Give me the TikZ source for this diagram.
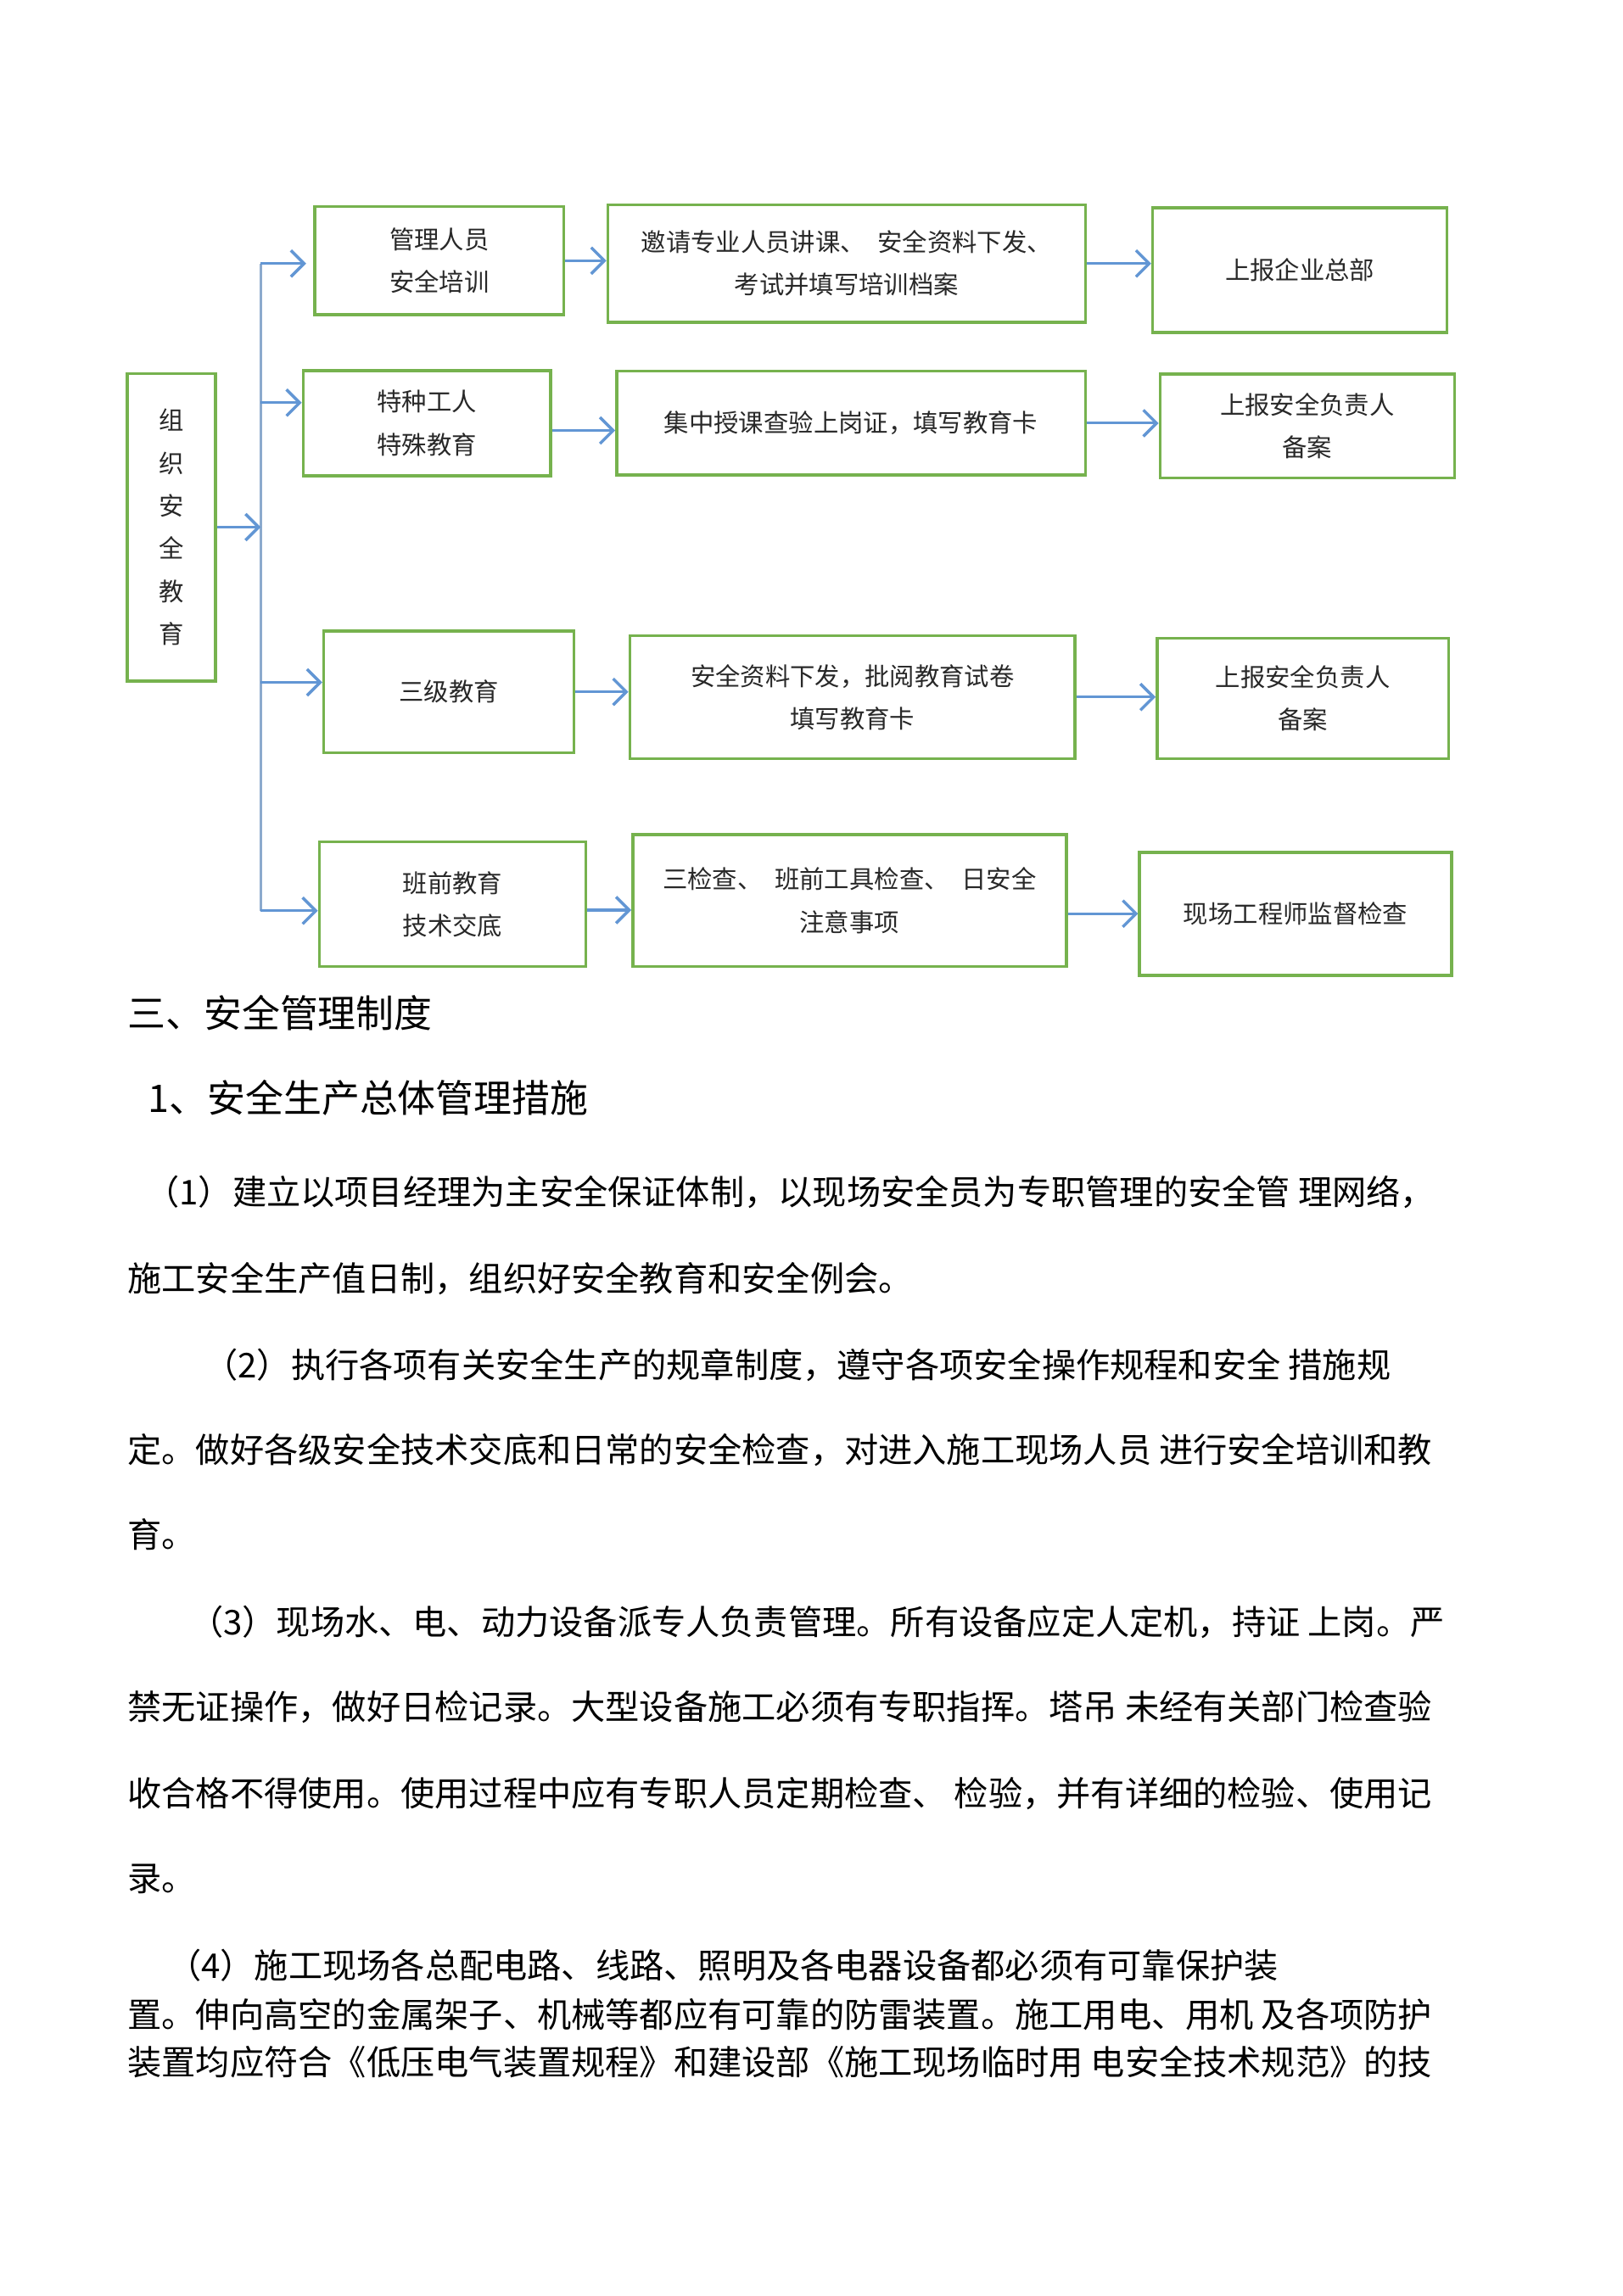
\documentclass[tikz,border=0pt]{standalone}
\usepackage{fontspec}
\setmainfont{Noto Sans CJK SC}
\usetikzlibrary{positioning,arrows.meta}
\definecolor{boxgreen}{RGB}{118,178,78}
\definecolor{arrowblue}{RGB}{98,150,212}
\definecolor{trunkblue}{RGB}{140,170,205}
\definecolor{inktext}{RGB}{40,40,40}

\begin{document}
\begin{tikzpicture}[x=1pt,y=-1pt,
  box/.style={draw=boxgreen,line width=2pt,inner sep=0pt,align=center,
    text=inktext,font=\fontsize{17}{29}\selectfont},
  para/.style={anchor=west,inner sep=0pt,font=\fontsize{23.3}{28}\selectfont},
  head/.style={anchor=west,inner sep=0pt,font=\fontsize{26}{30}\selectfont},
  >={Straight Barb[length=9pt,width=18pt,line width=2pt]},
  flow/.style={draw=arrowblue,line width=1.8pt}]
\path[use as bounding box,fill=white] (0,0) rectangle (1108,1568);

% left box
\node[box,minimum width=60pt,minimum height=210pt,font=\fontsize{17}{29.2}\selectfont]
  (L) at (117,360) {组\\织\\安\\全\\教\\育};

% first column
\node[box,minimum width=170pt,minimum height=74pt] (A1) at (300,178) {管理人员\\安全培训};
\node[box,minimum width=169pt,minimum height=72pt] (B1) at (291.5,289) {特种工人\\特殊教育};
\node[box,minimum width=171pt,minimum height=83pt] (C1) at (306.5,472.5) {三级教育};
\node[box,minimum width=182pt,minimum height=85pt] (D1) at (309,617.5) {班前教育\\技术交底};

% second column
\node[box,minimum width=326pt,minimum height=80pt,right=28pt of A1,yshift=-2pt] (A2)
  {邀请专业人员讲课、\enspace 安全资料下发、\\考试并填写培训档案};
\node[box,minimum width=320pt,minimum height=71pt,right=43pt of B1] (B2)
  {集中授课查验上岗证，填写教育卡};
\node[box,minimum width=304pt,minimum height=84pt,right=36pt of C1,yshift=-3.5pt] (C2)
  {安全资料下发，批阅教育试卷\\填写教育卡};
\node[box,minimum width=296pt,minimum height=90pt,right=30pt of D1,yshift=2.5pt] (D2)
  {三检查、\enspace 班前工具检查、\enspace 日安全\\注意事项};

% third column
\node[box,minimum width=201pt,minimum height=85pt,right=44pt of A2,yshift=-4.5pt] (A3) {上报企业总部};
\node[box,minimum width=201pt,minimum height=71pt,right=49pt of B2,yshift=-2pt] (B3) {上报安全负责人\\备案};
\node[box,minimum width=199pt,minimum height=82pt,right=54pt of C2,yshift=-1pt] (C3) {上报安全负责人\\备案};
\node[box,minimum width=213pt,minimum height=84pt,right=48pt of D2,yshift=-9pt] (D3) {现场工程师监督检查};

% trunk
\coordinate (T1) at (178,180);
\coordinate (T2) at (178,275);
\coordinate (T3) at (178,466);
\coordinate (T4) at (178,622);
\draw[draw=trunkblue,line width=1.8pt] (T1) -- (T4);

\draw[flow,->] (L.east) -- (L.east -| T1);
\draw[flow,->] (T1) -- ([xshift=-5pt]T1 -| A1.west);
\draw[flow,->] (T2) -- (T2 -| B1.west);
\draw[flow,->] (T3) -- (T3 -| C1.west);
\draw[flow,->] (T4) -- (T4 -| D1.west);

\draw[flow,->] (A1.east) -- (A1.east -| A2.west);
\draw[flow,->] (A2.east) -- (A2.east -| A3.west);
\draw[flow,->] ([yshift=-5pt]B1.east) -- ([yshift=-5pt]B1.east -| B2.west);
\draw[flow,->] (B2.east) -- (B2.east -| B3.west);
\draw[flow,->] (C1.east) -- (C1.east -| C2.west);
\draw[flow,->] (C2.east) -- (C2.east -| C3.west);
\draw[flow,->] ([yshift=-4pt]D1.east) -- ([yshift=-4pt]D1.east -| D2.west);
\draw[flow,->] (D2.east |- D3.west) -- (D3.west);

% text below
\node[head] (h1) at (87,692) {三、安全管理制度};
\node[head] (h2) at (101,750) {1、安全生产总体管理措施};

\node[para] (line1) at (99,814) {（1）建立以项目经理为主安全保证体制，以现场安全员为专职管理的安全管 理网络，};
\node[para] (line2) at (87,873) {施工安全生产值日制，组织好安全教育和安全例会。};
\node[para] (line3) at (139,932) {（2）执行各项有关安全生产的规章制度，遵守各项安全操作规程和安全 措施规};
\node[para] (line4) at (87,990) {定。做好各级安全技术交底和日常的安全检查，对进入施工现场人员 进行安全培训和教};
\node[para] (line5) at (87,1048) {育。};
\node[para] (line6) at (129,1108) {（3）现场水、电、动力设备派专人负责管理。所有设备应定人定机，持证 上岗。严};
\node[para] (line7) at (87,1166) {禁无证操作，做好日检记录。大型设备施工必须有专职指挥。塔吊 未经有关部门检查验};
\node[para] (line8) at (87,1225) {收合格不得使用。使用过程中应有专职人员定期检查、 检验，并有详细的检验、使用记};
\node[para] (line9) at (87,1283) {录。};
\node[para] (line10) at (114,1342) {（4）施工现场各总配电路、线路、照明及各电器设备都必须有可靠保护装};
\node[para] (line11) at (87,1376) {置。伸向高空的金属架子、机械等都应有可靠的防雷装置。施工用电、用机 及各项防护};
\node[para] (line12) at (87,1408) {装置均应符合《低压电气装置规程》和建设部《施工现场临时用 电安全技术规范》的技};
\end{tikzpicture}
\end{document}
